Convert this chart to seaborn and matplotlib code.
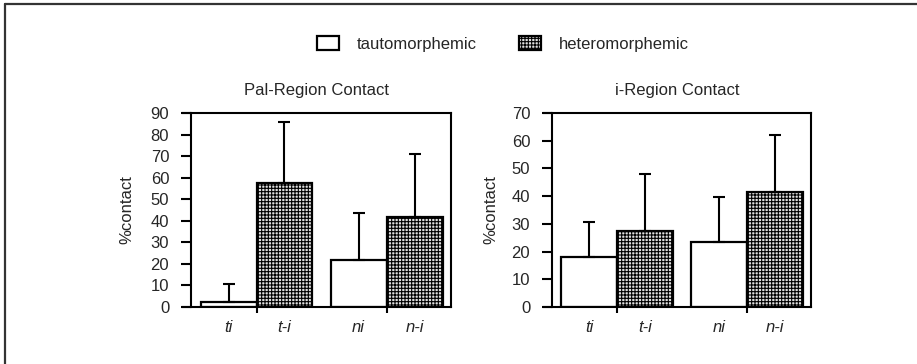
import matplotlib
matplotlib.use("Agg")
import matplotlib.pyplot as plt
import seaborn as sns
import pandas as pd
from matplotlib.lines import Line2D

# ---- data ----
groups = ["t", "t", "n", "n"]
kinds = ["tautomorphemic", "heteromorphemic", "tautomorphemic", "heteromorphemic"]
bar_labels = ["ti", "t-i", "ni", "n-i"]
pal_values = [2.3, 57.7, 21.8, 41.9]
pal_errors = [8.4, 28.1, 21.7, 28.9]
i_values = [18.1, 27.4, 23.3, 41.5]
i_errors = [12.4, 20.7, 16.3, 20.7]
titles = ["Pal-Region Contact", "i-Region Contact"]
ymaxes = [90, 70]

sns.set_theme(style="white")
plt.rcParams["font.family"] = ["Liberation Sans", "DejaVu Sans"]
plt.rcParams["hatch.linewidth"] = 0.8
plt.rcParams["hatch.color"] = "#2a2a2a"

fig = plt.figure(figsize=(9.17, 3.64), dpi=100)
ax_pos = [
    [183 / 917, 57 / 364, 268 / 917, 194 / 364],
    [544 / 917, 57 / 364, 267 / 917, 194 / 364],
]
palette = {"tautomorphemic": "white", "heteromorphemic": "#e0e0e0"}
FS = 12
label_x = [-0.18, -0.172]

axes = []
for k, (vals, errs) in enumerate([(pal_values, pal_errors), (i_values, i_errors)]):
    ax = fig.add_axes(ax_pos[k])
    axes.append(ax)
    df = pd.DataFrame({"group": groups, "kind": kinds, "value": vals,
                       "err": errs, "label": bar_labels})
    sns.barplot(data=df, x="group", y="value", hue="kind", order=["t", "n"],
                hue_order=["tautomorphemic", "heteromorphemic"], palette=palette,
                width=0.86, errorbar=None, edgecolor="black", linewidth=1.6,
                legend=False, ax=ax)
    for p in ax.containers[1]:
        p.set_hatch("+++++")
    # error bars (upward only)
    centers, labs = [], []
    for ci, kind in enumerate(["tautomorphemic", "heteromorphemic"]):
        for gi, g in enumerate(["t", "n"]):
            row = df[(df.group == g) & (df.kind == kind)].iloc[0]
            p = ax.containers[ci][gi]
            xc = p.get_x() + p.get_width() / 2
            ax.errorbar([xc], [row.value], yerr=[[0], [row.err]], fmt="none",
                        ecolor="black", elinewidth=1.5, capsize=4, capthick=1.5,
                        zorder=1)
            centers.append(xc)
            labs.append(row.label)
    order = sorted(range(4), key=lambda j: centers[j])
    ax.set_xticks([0, 1], ["", ""])
    ax.set_xticks([centers[j] for j in order], [labs[j] for j in order], minor=True)
    for t in ax.get_xticklabels(minor=True):
        t.set_fontstyle("italic")
    ax.tick_params(axis="x", which="major", direction="out", length=4, width=1.5,
                   color="black", bottom=True)
    ax.tick_params(axis="x", which="minor", length=0, pad=9, labelsize=FS)
    ax.set_xlim(-0.565, 1.495)
    ax.spines["left"].set_position(("data", -0.5))
    ax.set_ylim(0, ymaxes[k])
    ax.set_yticks(range(0, ymaxes[k] + 1, 10))
    ax.tick_params(axis="y", direction="out", length=7, width=1.5, color="black",
                   left=True, labelsize=FS, pad=9)
    for s in ax.spines.values():
        s.set_color("black")
        s.set_linewidth(1.5)
    ax.set_xlabel("")
    ax.set_ylabel("%contact", fontsize=FS)
    ax.yaxis.set_label_coords(label_x[k], 0.5)
    ax.set_title(titles[k], fontsize=FS, pad=13)

fig.legend([axes[0].containers[0], axes[0].containers[1]],
           ["tautomorphemic", "heteromorphemic"], loc="center",
           bbox_to_anchor=(503 / 917, 1 - 44 / 364), ncol=2, frameon=False,
           fontsize=FS, handlelength=1.3, handleheight=0.85, handletextpad=1.1,
           columnspacing=2.5)

# page border lines (top and left)
fig.add_artist(Line2D([5 / 917, 1], [1 - 4 / 364, 1 - 4 / 364], color="#333333",
                      lw=1.6, transform=fig.transFigure))
fig.add_artist(Line2D([5 / 917, 5 / 917], [0, 1 - 4 / 364], color="#333333",
                      lw=1.6, transform=fig.transFigure))

fig.savefig("out.png", dpi=100, facecolor="white")
